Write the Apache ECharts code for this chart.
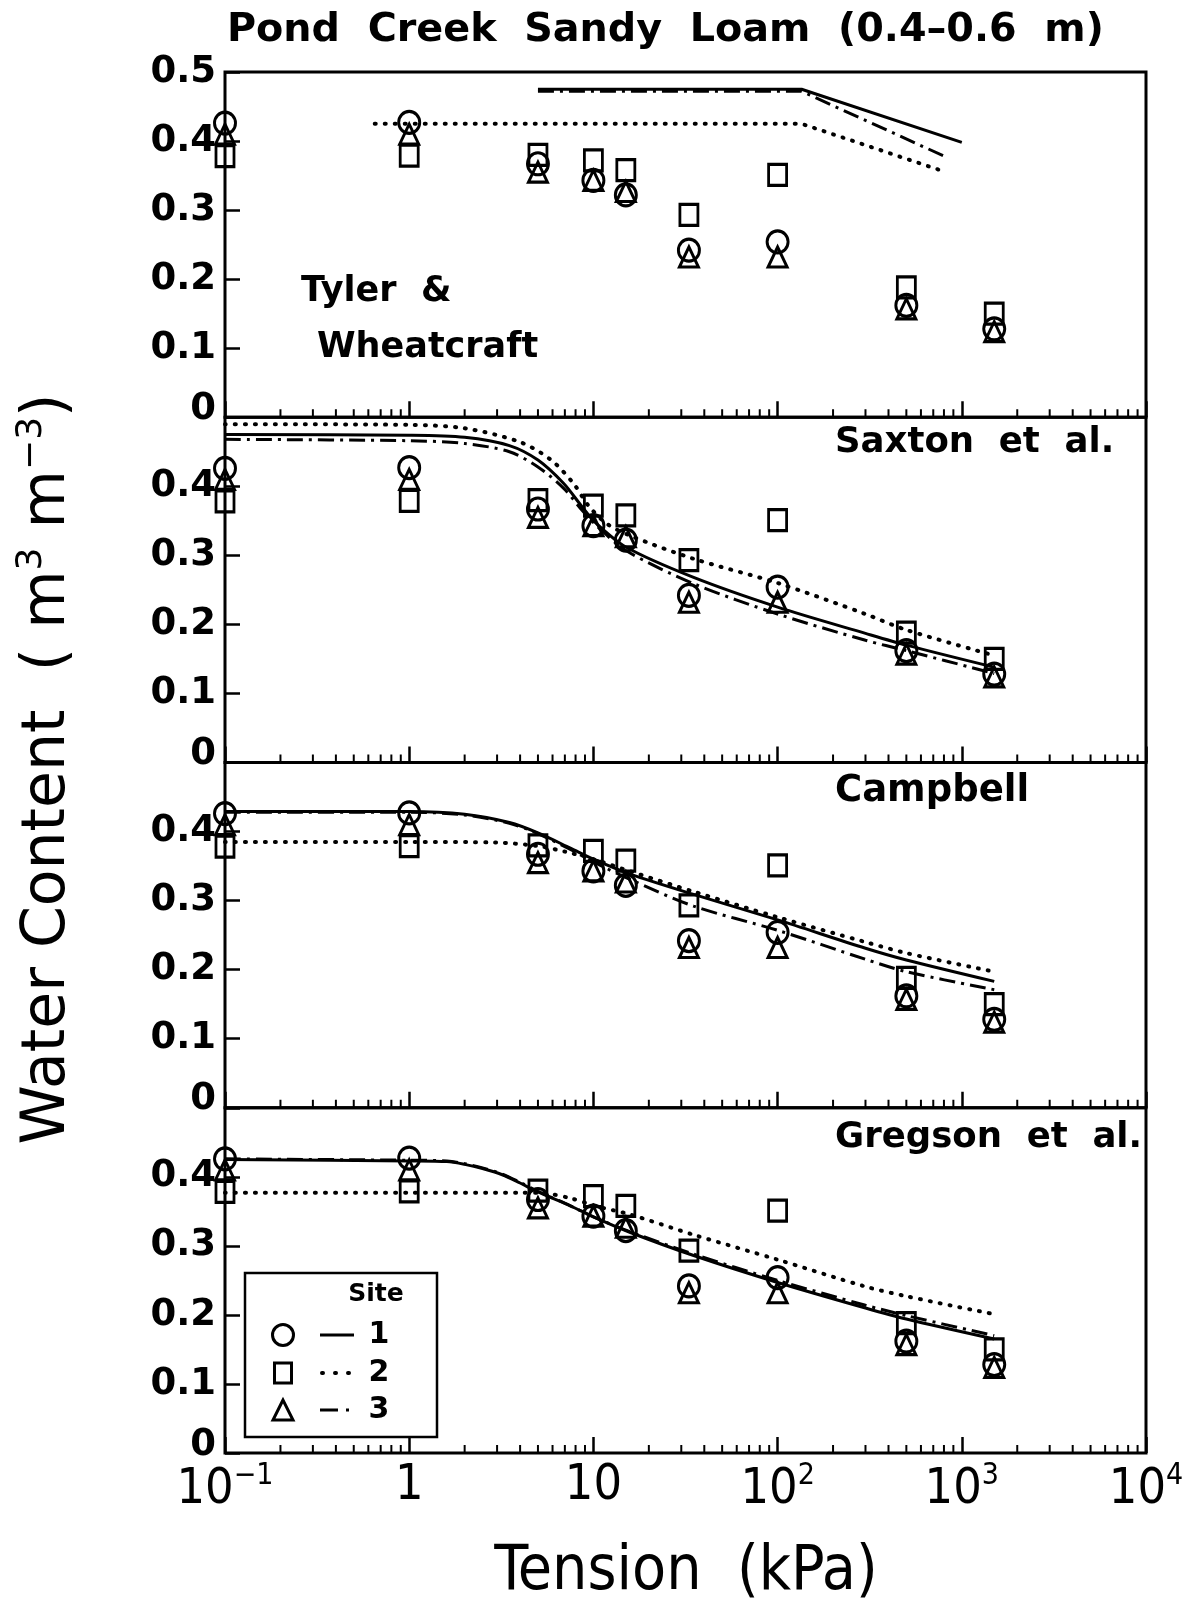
<!DOCTYPE html>
<html><head><meta charset="utf-8">
<script src="https://cdn.jsdelivr.net/npm/echarts@6/dist/echarts.min.js"></script>
<style>html,body{margin:0;padding:0;background:#fff}#c{width:1193px;height:1607px}</style>
</head><body><div id="c"></div>
<script>
// ---------- DATA ----------
const tension = [0.1, 1, 5, 10, 15, 33, 100, 500, 1500];
const site1 = [0.426, 0.427, 0.367, 0.343, 0.322, 0.242, 0.254, 0.162, 0.128];
const site2 = [0.378, 0.379, 0.380, 0.372, 0.358, 0.293, 0.351, 0.188, 0.150];
const site3 = [0.410, 0.410, 0.355, 0.343, 0.327, 0.232, 0.232, 0.157, 0.124];

const panelLabels = ['Saxton  et  al.', 'Campbell', 'Gregson  et  al.'];
const xTickLabels = {'-1': ['10', '−1'], '0': ['1', ''], '1': ['10', ''], '2': ['10', '2'], '3': ['10', '3'], '4': ['10', '4']};

// Tyler & Wheatcraft model curves [tension kPa, water content]
const tw1 = [[5, 0.475], [135, 0.475], [1000, 0.398]];
const tw2 = [[0.65, 0.425], [135, 0.425], [780, 0.357]];
const tw3 = [[5, 0.472], [135, 0.472], [820, 0.377]];
// Saxton et al.
const sx1 = [[0.1,0.475],[1,0.474],[2,0.471],[3.5,0.459],[5,0.438],[6.9,0.404],[8.7,0.370],[10.2,0.348],[15,0.312],[35,0.268],[100,0.225],[300,0.187],[500,0.170],[1500,0.138]];
const sx2 = [[0.1,0.490],[1,0.489],[2,0.484],[4,0.464],[5.9,0.438],[7.8,0.404],[9.4,0.372],[11.8,0.346],[16,0.328],[35,0.295],[100,0.260],[300,0.215],[500,0.192],[1500,0.155]];
const sx3 = [[0.1,0.468],[1,0.466],[2,0.462],[3.5,0.450],[5,0.428],[6.9,0.397],[8.7,0.365],[10.6,0.341],[15,0.307],[35,0.259],[100,0.215],[300,0.177],[500,0.162],[1500,0.129]];
// Campbell
const cb1 = [[0.1,0.429],[1,0.429],[2,0.425],[3.5,0.413],[5,0.398],[7.5,0.376],[10.2,0.359],[16,0.338],[35,0.309],[100,0.272],[300,0.231],[500,0.214],[1500,0.183]];
const cb2 = [[0.1,0.385],[1,0.385],[3,0.384],[5,0.379],[7,0.371],[10,0.360],[16,0.342],[35,0.313],[100,0.276],[300,0.240],[500,0.224],[1500,0.197]];
const cb3 = [[0.1,0.428],[1,0.428],[2,0.424],[3.5,0.412],[5,0.397],[7.5,0.374],[10,0.356],[16,0.330],[35,0.292],[100,0.257],[300,0.215],[500,0.197],[1500,0.171]];
// Gregson et al.
const gr1 = [[0.1,0.425],[1,0.423],[1.6,0.422],[2,0.418],[2.5,0.412],[3.2,0.403],[4,0.391],[5,0.378],[7.5,0.358],[10,0.342],[16,0.319],[35,0.286],[100,0.247],[300,0.210],[500,0.194],[1500,0.165]];
const gr2 = [[0.1,0.377],[1,0.377],[4,0.377],[5.5,0.376],[7.5,0.369],[10.2,0.358],[16,0.345],[35,0.316],[100,0.280],[300,0.241],[500,0.227],[1500,0.201]];
const gr3 = [[0.1,0.426],[1,0.424],[1.6,0.423],[2,0.419],[2.5,0.413],[3.2,0.404],[4,0.392],[5,0.379],[7.5,0.358],[10,0.342],[16,0.320],[35,0.288],[100,0.250],[300,0.214],[500,0.199],[1500,0.170]];

// ---------- LAYOUT / STYLE ----------
const FONT = "'DejaVu Sans', sans-serif";
const FONT_C = "'DejaVu Sans Condensed', 'Liberation Sans Narrow', 'DejaVu Sans', sans-serif";
const TOP = 72, PH = 345.25, LEFT = 225, W = 921;
const curves = [[tw1, tw2, tw3], [sx1, sx2, sx3], [cb1, cb2, cb3], [gr1, gr2, gr3]];
const sites = [site1, site2, site3];
const lineStyles = [
  {type: 'solid', width: 3, color: '#000'},
  {type: [1, 9], width: 4, cap: 'round', color: '#000'},
  {type: [16, 6, 3, 6], width: 3, color: '#000'}
];
const symbols = [['circle', [21, 22]], ['rect', [18, 21]], ['triangle', [19, 20]]];

const minorTicks = [];
for (let d = -1; d < 4; d++) for (let m = 2; m <= 9; m++) minorTicks.push(m * Math.pow(10, d));

const grid = [], xAxis = [], yAxis = [], series = [];
for (let i = 0; i < 4; i++) {
  grid.push({left: LEFT, width: W, top: TOP + i * PH, height: PH, show: true,
    borderColor: '#000', borderWidth: 3, backgroundColor: 'transparent'});
  xAxis.push({type: 'log', logBase: 10, min: 0.1, max: 10000, gridIndex: i,
    axisLine: {show: false},
    axisTick: {show: true, inside: true, length: 16, lineStyle: {color: '#000', width: 2.5}},
    splitLine: {show: false},
    axisLabel: {show: i === 3, margin: 8, color: '#000',
      formatter: v => { const e = Math.round(Math.log10(v)); const t = xTickLabels[String(e)];
        return '{b|' + t[0] + '}' + (t[1] ? '{s|' + t[1] + '}' : ''); },
      rich: {
        b: {fontFamily: FONT_C, fontSize: 50, color: '#000', verticalAlign: 'bottom'},
        s: {fontFamily: FONT_C, fontSize: 30, color: '#000', verticalAlign: 'bottom', padding: [0, 0, 24, 0]}
      }}
  });
  yAxis.push({type: 'value', min: 0, max: 0.5, interval: 0.1, gridIndex: i,
    axisLine: {show: false},
    axisTick: {show: true, inside: true, length: 15, lineStyle: {color: '#000', width: 2.5}},
    splitLine: {show: false},
    axisLabel: {margin: 9, color: '#000', fontFamily: FONT, fontWeight: 'bold', fontSize: 37,
      formatter: v => { if (Math.abs(v) < 1e-9) return '{z|0}'; if (i > 0 && v > 0.45) return ''; return v.toFixed(1); },
      rich: {z: {fontFamily: FONT, fontWeight: 'bold', fontSize: 37, color: '#000', padding: [0, 0, 16, 0]}}}
  });
  curves[i].forEach((c, k) => {
    series.push({type: 'line', xAxisIndex: i, yAxisIndex: i, data: c, showSymbol: false, symbol: 'none',
      smooth: i === 0 ? false : 0.3, clip: false, silent: true,
      lineStyle: lineStyles[k], z: 3});
  });
  sites.forEach((s, k) => {
    series.push({type: 'scatter', xAxisIndex: i, yAxisIndex: i, clip: false, silent: true,
      data: tension.map((t, j) => [t, s[j]]),
      symbol: symbols[k][0], symbolSize: symbols[k][1],
      itemStyle: {color: 'rgba(0,0,0,0)', borderColor: '#000', borderWidth: 3, opacity: 1}, z: 4});
  });
  series.push({type: 'custom', xAxisIndex: i, yAxisIndex: i, silent: true, clip: false, z: 5,
    data: minorTicks.map(v => [v, 0]),
    renderItem: (p, api) => { const c = api.coord([api.value(0), 0]);
      return {type: 'line', shape: {x1: c[0], y1: c[1], x2: c[0], y2: c[1] - 8},
        style: {stroke: '#000', lineWidth: 2}}; }
  });
}

const txt = (x, y, text, size, extra) => Object.assign({type: 'text', x: x, y: y, z: 10,
  style: Object.assign({text: text, fontSize: size, fontFamily: FONT, fill: '#000', align: 'left', verticalAlign: 'middle'}, extra || {})});
const B = {fontWeight: 'bold'};

const graphic = [
  txt(227, 31, 'Pond  Creek  Sandy  Loam  (0.4–0.6  m)', 39.7, B),
  txt(301, 292, 'Tyler  &', 35, B),
  txt(317, 348, 'Wheatcraft', 35, B),
  txt(835, 443, panelLabels[0], 35.5, B),
  txt(835, 791, panelLabels[1], 37, B),
  txt(835, 1138, panelLabels[2], 35.5, B),
  {type: 'text', x: 686, y: 1573, z: 10, style: {text: 'Tension  (kPa)', fontSize: 62, fontFamily: FONT_C, fill: '#000', align: 'center', verticalAlign: 'middle'}},
  {type: 'text', x: 46, y: 769, rotation: Math.PI / 2, z: 10, style: {
    text: '{n|Water Content  (}{n| m}{s|3}{n| m}{s|−3}{n|)}', align: 'center', verticalAlign: 'middle',
    rich: {n: {fontSize: 60, fontFamily: FONT, fill: '#000', color: '#000', verticalAlign: 'bottom'},
           s: {fontSize: 36, fontFamily: FONT, fill: '#000', color: '#000', verticalAlign: 'bottom', padding: [0, 0, 28, 0]}}}},
  // legend
  {type: 'rect', z: 20, shape: {x: 245, y: 1273, width: 192, height: 164}, style: {fill: '#fff', stroke: '#000', lineWidth: 2.5}},
  Object.assign(txt(376, 1294, 'Site', 25, {fontWeight: 'bold', align: 'center'}), {z: 21}),
  {type: 'circle', z: 21, shape: {cx: 283, cy: 1335, r: 10.5}, style: {fill: 'none', stroke: '#000', lineWidth: 3}},
  {type: 'rect', z: 21, shape: {x: 274.5, y: 1363, width: 17, height: 20}, style: {fill: 'none', stroke: '#000', lineWidth: 3}},
  {type: 'polygon', z: 21, shape: {points: [[283, 1400], [273, 1420], [293, 1420]]}, style: {fill: 'none', stroke: '#000', lineWidth: 3}},
  {type: 'line', z: 21, shape: {x1: 320, y1: 1335, x2: 354, y2: 1335}, style: {stroke: '#000', lineWidth: 3}},
  {type: 'line', z: 21, shape: {x1: 322, y1: 1373, x2: 350, y2: 1373}, style: {stroke: '#000', lineWidth: 4, lineDash: [1, 12], lineCap: 'round'}},
  {type: 'line', z: 21, shape: {x1: 320, y1: 1410, x2: 352, y2: 1410}, style: {stroke: '#000', lineWidth: 3, lineDash: [18, 8, 3, 100]}},
  Object.assign(txt(379, 1335, '1', 30, {fontWeight: 'bold', align: 'center'}), {z: 21}),
  Object.assign(txt(379, 1373, '2', 30, {fontWeight: 'bold', align: 'center'}), {z: 21}),
  Object.assign(txt(379, 1410, '3', 30, {fontWeight: 'bold', align: 'center'}), {z: 21})
];

const chart = echarts.init(document.getElementById('c'), null, {renderer: 'canvas'});
chart.setOption({animation: false, backgroundColor: '#fff', grid, xAxis, yAxis, series, graphic});
</script></body></html>
